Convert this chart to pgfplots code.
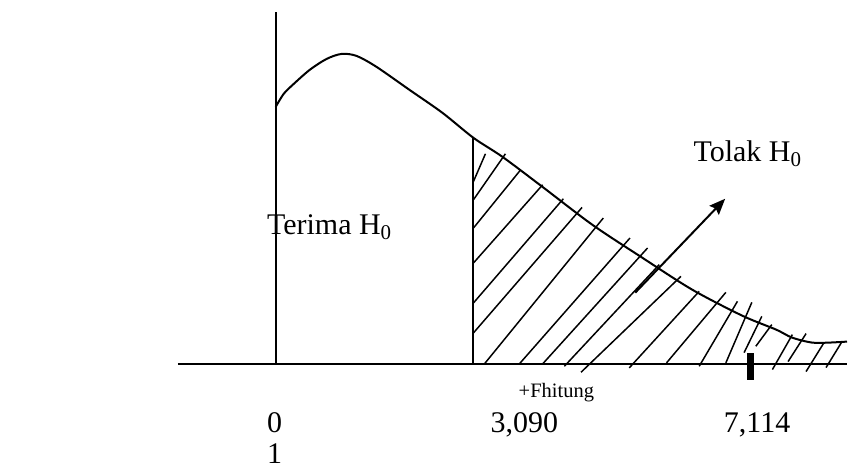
\documentclass[border=0pt]{standalone}
\usepackage{fontspec}
\setmainfont{Liberation Serif}
\usepackage{pgfplots}
\pgfplotsset{compat=1.18}
\usetikzlibrary{arrows.meta}

\begin{document}
\begin{tikzpicture}
% Sketch of the F distribution with the acceptance and rejection regions.
% Drawing units: 1 unit = 0.5pt.
\begin{axis}[
  x=0.5pt, y=0.5pt,
  xmin=0, xmax=848, ymin=0, ymax=470,
  hide axis, clip=false,
  scale only axis,
]
% full drawing area
\path[draw=none] (axis cs:0,0) rectangle (axis cs:848,470);
% horizontal base line
\addplot[black, line width=1pt] coordinates {(178,106) (848,106)};
% vertical line at 0
\addplot[black, line width=1pt] coordinates {(276,106) (276,458)};
% density curve
\addplot[black, line width=1pt, smooth, tension=0.5] coordinates {
  (276,363) (284,376) (293,385) (310,400) (327,411) (342,416) (357,414)
  (377,403) (410,380) (443,357) (474,332) (503,313) (543,283) (593,245)
  (643,212) (693,180) (743,154) (777,140) (793,132) (813,127) (830,127)
  (848,128)
};
% critical value line at 3,090
\addplot[black, line width=1pt] coordinates {(474,106) (474,332)};
% hatching of the rejection region
\pgfplotsset{hatch/.style={black, line width=0.75pt}}
\addplot[hatch] coordinates {(474,288.3) (486,316)};
\addplot[hatch] coordinates {(474,270) (506,316)};
\addplot[hatch] coordinates {(474,241.7) (520.7,299.3)};
\addplot[hatch] coordinates {(474,206.7) (543.3,285)};
\addplot[hatch] coordinates {(474,166.7) (564,271)};
\addplot[hatch] coordinates {(474,136.7) (582.7,262.3)};
\addplot[hatch] coordinates {(485,105.7) (604,251.7)};
\addplot[hatch] coordinates {(520,105.7) (630.7,231.7)};
\addplot[hatch] coordinates {(543.3,105.7) (648.3,221.7)};
\addplot[hatch] coordinates {(565,103.3) (660,205)};
\addplot[hatch] coordinates {(581.7,97.3) (681.7,193.3)};
\addplot[hatch] coordinates {(630,101.7) (700,178.3)};
\addplot[hatch] coordinates {(667.3,106.7) (726.7,177.3)};
\addplot[hatch] coordinates {(700,103.3) (738.3,168.3)};
\addplot[hatch] coordinates {(726.7,106.7) (752.7,167.3)};
\addplot[hatch] coordinates {(745,117) (762.7,153.3)};
\addplot[hatch] coordinates {(756.7,123.3) (772.7,145)};
\addplot[hatch] coordinates {(773.3,100) (793.3,135)};
\addplot[hatch] coordinates {(789,108) (807,136)};
\addplot[hatch] coordinates {(807,98) (825,127)};
\addplot[hatch] coordinates {(827,102) (843,128)};
% F hitung marker at 7,114
\addplot[black, line width=3.5pt] coordinates {(751,90) (751,117)};
% arrow pointing into the rejection region
\addplot[black, line width=1pt, -{Stealth[length=8pt, width=6.5pt, inset=1.2pt]}]
  coordinates {(636,177) (726,271)};
% labels
\node[anchor=base west, inner sep=0pt, font=\fontsize{15}{18}\selectfont]
  at (axis cs:267,235) {Terima H\textsubscript{0}};
\node[anchor=base west, inner sep=0pt, font=\fontsize{15}{18}\selectfont]
  at (axis cs:694,308) {Tolak H\textsubscript{0}};
\node[anchor=base, inner sep=0pt, font=\fontsize{10.25}{12}\selectfont]
  at (axis cs:557,72) {+Fhitung};
\node[anchor=base, inner sep=0pt, font=\fontsize{15}{18}\selectfont]
  at (axis cs:275,37) {0};
\node[anchor=base, inner sep=0pt, font=\fontsize{15}{18}\selectfont]
  at (axis cs:275,6) {1};
\node[anchor=base, inner sep=0pt, font=\fontsize{15}{18}\selectfont]
  at (axis cs:525,37) {3,090};
\node[anchor=base, inner sep=0pt, font=\fontsize{15}{18}\selectfont]
  at (axis cs:758,37) {7,114};
\end{axis}
\end{tikzpicture}
\end{document}
